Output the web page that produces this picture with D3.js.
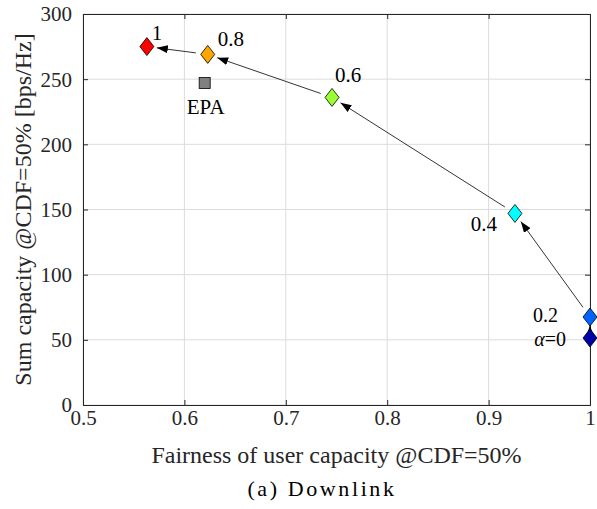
<!DOCTYPE html>
<html>
<head>
<meta charset="utf-8">
<script src="https://d3js.org/d3.v7.min.js"></script>
<style>
  body { margin: 0; background: #fff; }
  text { font-family: "Liberation Serif", "Times New Roman", serif; fill: #262626; }
</style>
</head>
<body>
<script>
// alpha sweep values (fairness, sum capacity)
var alphaLabels = ["α=0", "0.2", "0.4", "0.6", "0.8", "1"];
var fairness = [1.0, 1.0, 0.926, 0.7456, 0.623, 0.563];
var sumCap = [51.4, 67.5, 147, 236, 269, 275];
var colors = ["#0000a8", "#0062ff", "#00ffff", "#99ff33", "#ffa500", "#ff0000"];

// reference scheme
var epaFairness = [0.62];
var epaSumCap = [247];

var xTicks = [0.5, 0.6, 0.7, 0.8, 0.9, 1];
var yTicks = [0, 50, 100, 150, 200, 250, 300];

var W = 597, H = 509;
var margin = {top: 14, right: 7, bottom: 104, left: 83},
    width = W - margin.left - margin.right,
    height = H - margin.top - margin.bottom;

var serif = "'Liberation Serif', 'Times New Roman', serif";

var x = d3.scaleLinear().domain([0.5, 1]).range([0, width]);
var y = d3.scaleLinear().domain([0, 300]).range([height, 0]);

var svg = d3.select("body").append("svg")
    .attr("width", W)
    .attr("height", H);

svg.append("defs").append("marker")
    .attr("id", "arrow")
    .attr("viewBox", "0 0 11 8")
    .attr("refX", 11).attr("refY", 4)
    .attr("markerWidth", 11).attr("markerHeight", 8)
    .attr("markerUnits", "userSpaceOnUse")
    .attr("orient", "auto")
  .append("path")
    .attr("d", "M0,0L11,4L0,8Z")
    .style("fill", "#000");

var g = svg.append("g")
    .attr("transform", "translate(" + margin.left + "," + margin.top + ")");

// grid
g.append("g").selectAll("line").data(xTicks).enter().append("line")
    .attr("x1", function(d) { return x(d); }).attr("x2", function(d) { return x(d); })
    .attr("y1", 0).attr("y2", height)
    .style("stroke", "#dcdcdc").style("stroke-width", 1);
g.append("g").selectAll("line").data(yTicks).enter().append("line")
    .attr("y1", function(d) { return y(d); }).attr("y2", function(d) { return y(d); })
    .attr("x1", 0).attr("x2", width)
    .style("stroke", "#dcdcdc").style("stroke-width", 1);

// axes (inward ticks, MATLAB style)
var xAxis = d3.axisBottom(x).tickValues(xTicks).tickSize(-5)
    .tickFormat(function(d) { return d === 1 ? "1" : d3.format(".1f")(d); });
var yAxis = d3.axisLeft(y).tickValues(yTicks).tickSize(-5);

var xg = g.append("g").attr("transform", "translate(0," + height + ")").call(xAxis);
var yg = g.append("g").call(yAxis);
g.append("g").call(d3.axisTop(x).tickValues(xTicks).tickSize(-5).tickFormat(""));
g.append("g").attr("transform", "translate(" + width + ",0)")
    .call(d3.axisRight(y).tickValues(yTicks).tickSize(-5).tickFormat(""));

g.selectAll("g").attr("font-family", serif);
g.selectAll(".domain").style("stroke", "#262626");
g.selectAll(".tick line").style("stroke", "#262626");
g.selectAll(".tick text").style("font-size", "21px")
    .style("font-family", serif).style("fill", "#262626");
xg.selectAll(".tick text").attr("dy", null).attr("y", 20);
yg.selectAll(".tick text").attr("dy", "0.33em").attr("x", -11);

// arrows between consecutive alpha points
var pts = fairness.map(function(f, i) { return {x: x(f), y: y(sumCap[i])}; });
for (var i = 0; i < pts.length - 1; i++) {
  var a = pts[i], b = pts[i + 1];
  var dx = b.x - a.x, dy = b.y - a.y, L = Math.sqrt(dx * dx + dy * dy);
  var ux = dx / L, uy = dy / L;
  var s0 = Math.min(12, L * 0.4), s1 = Math.min(10, L * 0.4);
  g.append("line")
      .attr("x1", a.x + ux * s0).attr("y1", a.y + uy * s0)
      .attr("x2", b.x - ux * s1).attr("y2", b.y - uy * s1)
      .style("stroke", "#000").style("stroke-width", 0.8)
      .attr("marker-end", "url(#arrow)");
}

// EPA square
g.selectAll(".epa").data(epaFairness).enter().append("rect")
    .attr("x", function(d) { return x(d) - 5.5; })
    .attr("y", function(d, i) { return y(epaSumCap[i]) - 5.5; })
    .attr("width", 11).attr("height", 11)
    .style("fill", "#808080").style("stroke", "#000").style("stroke-width", 0.8);
g.selectAll(".epaLab").data(epaFairness).enter().append("text")
    .attr("x", function(d) { return x(d) + 1; })
    .attr("y", function(d, i) { return y(epaSumCap[i]) + 31; })
    .attr("text-anchor", "middle")
    .style("font-size", "21px").style("fill", "#000")
    .text("EPA");

// diamonds
g.selectAll(".dia").data(fairness).enter().append("path")
    .attr("d", function(d, i) {
      var cx = x(d), cy = y(sumCap[i]);
      return "M" + cx + "," + (cy - 9) + "L" + (cx + 7) + "," + cy +
             "L" + cx + "," + (cy + 9) + "L" + (cx - 7) + "," + cy + "Z";
    })
    .style("fill", function(d, i) { return colors[i]; })
    .style("stroke", "#000").style("stroke-width", 0.8);

// alpha labels
var labOff = {
  "α=0": {dx: -24, dy: 8, anchor: "end", size: 20},
  "0.2": {dx: -32, dy: 5, anchor: "end", size: 20},
  "0.4": {dx: -18, dy: 18, anchor: "end", size: 21},
  "0.6": {dx: 3, dy: -15, anchor: "start", size: 21},
  "0.8": {dx: 10, dy: -8, anchor: "start", size: 21},
  "1": {dx: 10, dy: -7, anchor: "middle", size: 21}
};
alphaLabels.forEach(function(lab, i) {
  var o = labOff[lab];
  var t = g.append("text")
      .attr("x", x(fairness[i]) + o.dx)
      .attr("y", y(sumCap[i]) + o.dy)
      .attr("text-anchor", o.anchor)
      .style("font-size", o.size + "px").style("fill", "#000");
  if (lab === "α=0") {
    t.append("tspan").style("font-style", "italic").text("α");
    t.append("tspan").text("=0");
  } else {
    t.text(lab);
  }
});

// axis titles
svg.append("text")
    .attr("x", margin.left + width / 2)
    .attr("y", 463)
    .attr("text-anchor", "middle")
    .style("font-size", "24px")
    .text("Fairness of user capacity @CDF=50%");

svg.append("text")
    .attr("transform", "translate(31," + (margin.top + height / 2) + ") rotate(-90)")
    .attr("text-anchor", "middle")
    .style("font-size", "24px")
    .text("Sum capacity @CDF=50% [bps/Hz]");

svg.append("text")
    .attr("x", 322)
    .attr("y", 496)
    .attr("text-anchor", "middle")
    .style("font-size", "22px")
    .style("fill", "#000")
    .style("letter-spacing", "2.6px")
    .text("(a) Downlink");
</script>
</body>
</html>
